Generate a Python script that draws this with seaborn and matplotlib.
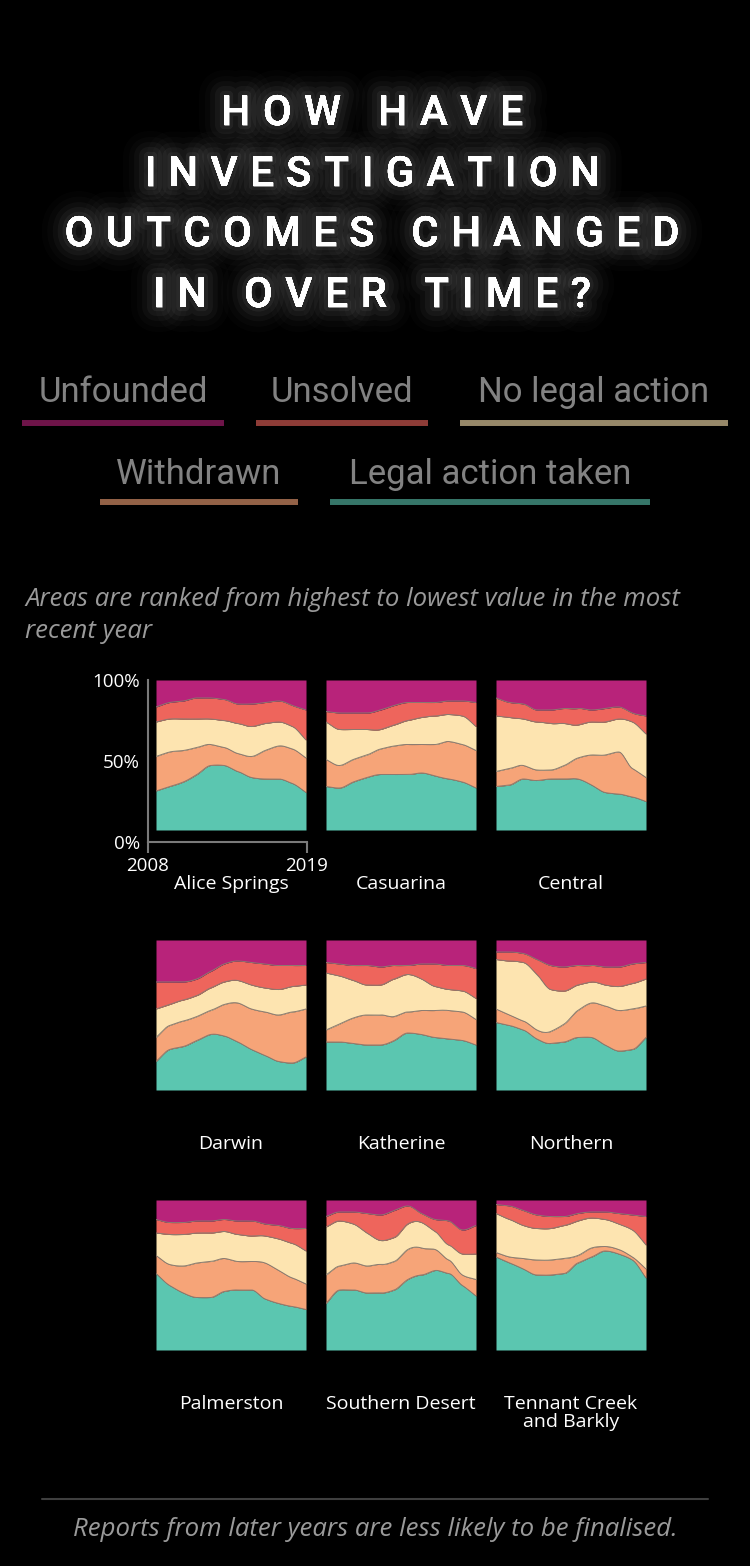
import numpy as np
import pandas as pd
import matplotlib
matplotlib.use("Agg")
import matplotlib.pyplot as plt
import matplotlib.patheffects as pe
import seaborn as sns

W, H = 750, 1566

years = list(range(2008, 2020))
areas = ["Alice Springs", "Casuarina", "Central",
         "Darwin", "Katherine", "Northern",
         "Palmerston", "Southern Desert", "Tennant Creek\nand Barkly"]

# shares (%) per year, bottom layer first
legal_action = {
    "Alice Springs": [26, 29, 32, 37, 43, 43, 39, 35, 34, 34, 31, 25],
    "Casuarina": [29, 28, 32, 35, 37, 37, 37, 38, 36, 34, 32, 28],
    "Central": [29, 30, 34, 33, 34, 34, 34, 30, 25, 24, 22, 19],
    "Darwin": [19, 27, 29, 33, 37, 36, 32, 27, 23, 19, 18, 22],
    "Katherine": [32, 32, 31, 30, 30, 33, 38, 37, 35, 34, 33, 30],
    "Northern": [45, 43, 40, 34, 31, 32, 35, 35, 30, 26, 27, 35],
    "Palmerston": [51, 43, 38, 35, 35, 39, 40, 40, 34, 31, 29, 27],
    "Southern Desert": [31, 40, 40, 38, 38, 40, 47, 50, 53, 51, 43, 36],
    "Tennant Creek\nand Barkly": [62, 58, 54, 50, 50, 51, 58, 62, 66, 64, 60, 48],
}
withdrawn = {
    "Alice Springs": [23, 23, 21, 18, 14, 12, 12, 14, 19, 22, 23, 23],
    "Casuarina": [18, 15, 15, 15, 17, 19, 20, 19, 21, 25, 25, 25],
    "Central": [10, 11, 9, 7, 6, 9, 14, 20, 25, 28, 19, 16],
    "Darwin": [16, 16, 17, 16, 16, 21, 26, 27, 29, 31, 34, 32],
    "Katherine": [8, 12, 17, 20, 20, 16, 14, 16, 18, 19, 19, 17],
    "Northern": [9, 7, 6, 6, 8, 12, 18, 23, 26, 27, 27, 21],
    "Palmerston": [12, 14, 18, 23, 24, 22, 19, 19, 24, 22, 19, 17],
    "Southern Desert": [19, 16, 18, 18, 19, 19, 20, 18, 14, 9, 7, 11],
    "Tennant Creek\nand Barkly": [3, 4, 7, 10, 10, 10, 5, 6, 3, 3, 2, 6],
}
no_legal_action = {
    "Alice Springs": [23, 22, 21, 19, 17, 18, 20, 20, 18, 16, 15, 12],
    "Casuarina": [25, 24, 20, 17, 13, 14, 16, 18, 19, 18, 19, 16],
    "Central": [37, 34, 31, 32, 31, 28, 22, 22, 22, 22, 31, 29],
    "Darwin": [19, 14, 14, 14, 15, 15, 15, 16, 16, 17, 17, 16],
    "Katherine": [38, 32, 25, 20, 20, 25, 25, 21, 16, 14, 14, 14],
    "Northern": [33, 36, 39, 37, 28, 22, 17, 14, 14, 16, 17, 18],
    "Palmerston": [15, 20, 21, 20, 19, 18, 18, 17, 18, 21, 23, 22],
    "Southern Desert": [32, 30, 26, 22, 16, 16, 17, 17, 12, 10, 14, 17],
    "Tennant Creek\nand Barkly": [26, 25, 22, 21, 21, 22, 23, 20, 18, 17, 18, 16],
}
unsolved = {
    "Alice Springs": [10, 11, 12, 14, 14, 14, 13, 15, 14, 14, 14, 20],
    "Casuarina": [7, 11, 11, 11, 13, 13, 12, 10, 9, 9, 10, 16],
    "Central": [12, 10, 10, 8, 9, 10, 11, 8, 9, 8, 6, 12],
    "Darwin": [18, 15, 12, 11, 11, 12, 13, 15, 16, 16, 14, 13],
    "Katherine": [7, 8, 10, 13, 12, 9, 6, 10, 15, 16, 17, 20],
    "Northern": [5, 6, 6, 10, 16, 16, 13, 11, 12, 13, 13, 11],
    "Palmerston": [9, 8, 8, 8, 8, 8, 9, 10, 8, 9, 10, 15],
    "Southern Desert": [7, 6, 8, 13, 17, 18, 12, 6, 8, 16, 16, 19],
    "Tennant Creek\nand Barkly": [6, 9, 10, 9, 8, 6, 5, 4, 5, 7, 10, 19],
}
unfounded = {
    "Alice Springs": [18, 15, 14, 12, 12, 13, 16, 16, 15, 14, 17, 20],
    "Casuarina": [21, 22, 22, 22, 20, 17, 15, 15, 15, 14, 14, 15],
    "Central": [12, 15, 16, 20, 20, 19, 19, 20, 19, 18, 22, 24],
    "Darwin": [28, 28, 28, 26, 21, 16, 14, 15, 16, 17, 17, 17],
    "Katherine": [15, 16, 17, 17, 18, 17, 17, 16, 16, 17, 17, 19],
    "Northern": [8, 8, 9, 13, 17, 18, 17, 17, 18, 18, 16, 15],
    "Palmerston": [13, 15, 15, 14, 14, 13, 14, 14, 16, 17, 19, 19],
    "Southern Desert": [11, 8, 8, 9, 10, 7, 4, 9, 13, 14, 20, 17],
    "Tennant Creek\nand Barkly": [3, 4, 7, 10, 11, 11, 9, 8, 8, 9, 10, 11],
}

outcomes = ["Legal action taken", "Withdrawn", "No legal action", "Unsolved", "Unfounded"]
colors = ["#5bc6b0", "#f6a478", "#fde4b0", "#ee655c", "#b8237a"]

shares = dict(zip(outcomes, [legal_action, withdrawn, no_legal_action, unsolved, unfounded]))
rows = [(a, y, k, v) for k, d in shares.items() for a in areas for y, v in zip(years, d[a])]
df = pd.DataFrame(rows, columns=["area", "year", "outcome", "pct"])


def monotone(x, y, xs):
    # monotone cubic (like d3.curveMonotoneX), only used to draw smooth edges
    x = np.asarray(x, float)
    y = np.asarray(y, float)
    h = np.diff(x)
    d = np.diff(y) / h
    m = np.zeros_like(y)
    m[0], m[-1] = d[0], d[-1]
    for i in range(1, len(y) - 1):
        if d[i - 1] * d[i] > 0:
            w1, w2 = 2 * h[i] + h[i - 1], h[i] + 2 * h[i - 1]
            m[i] = (w1 + w2) / (w1 / d[i - 1] + w2 / d[i])
    i = np.clip(np.searchsorted(x, xs) - 1, 0, len(x) - 2)
    t = (xs - x[i]) / h[i]
    h00 = 2 * t**3 - 3 * t**2 + 1
    h10 = t**3 - 2 * t**2 + t
    h01 = -2 * t**3 + 3 * t**2
    h11 = t**3 - t**2
    return h00 * y[i] + h10 * h[i] * m[i] + h01 * y[i + 1] + h11 * h[i] * m[i + 1]


sns.set_theme(style="dark", rc={"axes.facecolor": "black", "figure.facecolor": "black",
                                "savefig.facecolor": "black"})
plt.rcParams["font.family"] = ["Open Sans", "DejaVu Sans"]

fig = plt.figure(figsize=(W / 100, H / 100), dpi=100)
bg = fig.add_axes([0, 0, 1, 1], zorder=0)
bg.set_xlim(0, W)
bg.set_ylim(H, 0)
bg.axis("off")

# title with letter spacing and a soft glow
renderer = fig.canvas.get_renderer()
title_lines = ["HOW HAVE", "INVESTIGATION", "OUTCOMES CHANGED", "IN OVER TIME?"]
title_base = [125, 186, 246, 307]
title_kw = dict(fontsize=30, fontweight="medium", color="white", family=["Roboto", "DejaVu Sans"])
glow = [pe.withStroke(linewidth=36, foreground=(1, 1, 1, 0.015)),
        pe.withStroke(linewidth=28, foreground=(1, 1, 1, 0.02)),
        pe.withStroke(linewidth=20, foreground=(1, 1, 1, 0.03)),
        pe.withStroke(linewidth=13, foreground=(1, 1, 1, 0.04)),
        pe.withStroke(linewidth=6, foreground=(1, 1, 1, 0.05)),
        pe.Normal()]
tracking = 12.5
space = 12
for line, yb in zip(title_lines, title_base):
    widths = []
    for ch in line:
        if ch == " ":
            widths.append(space)
            continue
        t = bg.text(0, 0, ch, **title_kw)
        widths.append(t.get_window_extent(renderer).width)
        t.remove()
    total = sum(widths) + tracking * (len(line) - 1)
    x = 372 - total / 2
    for ch, w in zip(line, widths):
        if ch != " ":
            bg.text(x, yb, ch, ha="left", va="baseline", path_effects=glow, **title_kw)
        x += w + tracking

# legend
legend_items = [
    ("Unfounded", 4, 123, 402, 22, 224, 423),
    ("Unsolved", 3, 342, 402, 256, 428, 423),
    ("No legal action", 2, 594, 402, 460, 728, 423),
    ("Withdrawn", 1, 199, 484, 100, 298, 502),
    ("Legal action taken", 0, 490, 484, 330, 650, 502),
]
for label, ci, tx, ty, x0, x1, ly in legend_items:
    bg.text(tx, ty, label, ha="center", va="baseline", fontsize=25,
            family=["Roboto", "DejaVu Sans"], color="#828282")
    bg.plot([x0, x1], [ly, ly], color=colors[ci], alpha=0.6, lw=4.3,
            solid_capstyle="butt")

# subtitle
note_kw = dict(fontsize=18.5, style="italic", color="#9a9a9a")
bg.text(25, 606, "Areas are ranked from highest to lowest value in the most",
        ha="left", va="baseline", **note_kw)
bg.text(25, 638, "recent year", ha="left", va="baseline", **note_kw)

# panels
xs = np.linspace(years[0], years[-1], 300)
for i, area in enumerate(areas):
    row, col = divmod(i, 3)
    px, py = 156 + 170 * col, 680 + 260 * row
    ax = fig.add_axes([px / W, 1 - (py + 150) / H, 150 / W, 150 / H], zorder=2)
    sub = df[df["area"] == area].pivot(index="year", columns="outcome", values="pct")[outcomes]
    sub = sub.div(sub.sum(axis=1), axis=0) * 100
    smooth = [np.clip(monotone(sub.index, sub[o], xs), 0, None) for o in outcomes]
    tot = np.sum(smooth, axis=0)
    smooth = [s / tot * 100 for s in smooth]
    lower = np.zeros_like(xs)
    for k, (o, s) in enumerate(zip(outcomes, smooth)):
        upper = lower + s
        ax.fill_between(xs, lower, upper, color=colors[k], lw=0)
        if k < len(outcomes) - 1:
            sns.lineplot(x=xs, y=upper, ax=ax, color="#8a7a70", lw=0.7, legend=False)
        lower = upper
    ax.set_xlim(years[0], years[-1])
    ax.set_ylim(0, 100)
    ax.axis("off")
    bg.text(px + 75, py + 195, area, ha="center", va="top", fontsize=14,
            color="white", linespacing=1.0)

# axis for the first panel
axa = fig.add_axes([148 / W, 1 - 842 / H, 159 / W, 162 / H], zorder=1)
axa.set_facecolor("none")
axa.set_xlim(years[0], years[-1])
axa.set_ylim(0, 100)
axa.set_yticks([0, 50, 100], ["0%", "50%", "100%"])
axa.set_xticks([years[0], years[-1]], [str(years[0]), str(years[-1])])
axa.tick_params(axis="y", length=0, pad=6, labelcolor="white", labelsize=13.5)
axa.tick_params(axis="x", length=8, width=1.5, color="#7a7a7a", pad=2.5,
                labelcolor="white", labelsize=13.5, bottom=True)
axa.grid(False)
sns.despine(ax=axa)
for s in ["left", "bottom"]:
    axa.spines[s].set_color("#7a7a7a")
    axa.spines[s].set_linewidth(1.5)

# footer
bg.plot([42, 708], [1499, 1499], color="#3f3f3f", lw=1.5)
bg.text(375, 1536, "Reports from later years are less likely to be finalised.",
        ha="center", va="baseline", **note_kw)

fig.savefig("out.png", dpi=100, facecolor="black")
